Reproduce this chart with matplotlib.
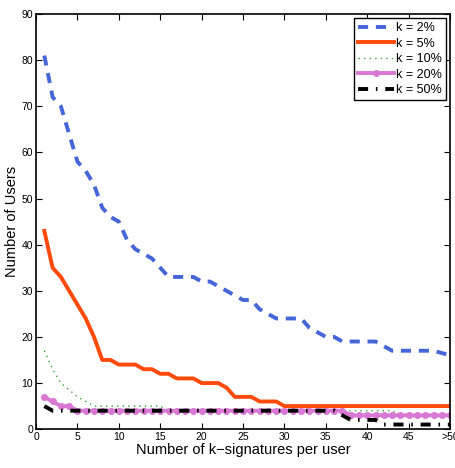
import numpy as np
import matplotlib
matplotlib.use("Agg")
import matplotlib.pyplot as plt

plt.rcParams['font.family'] = ['Liberation Sans', 'DejaVu Sans']

# number of k-signatures per user (50 means ">50")
x = list(range(1, 51))

k2 = [81, 72, 70, 64, 58, 56, 53, 48, 46, 45,
      41, 39, 38, 37, 35, 33, 33, 33, 33, 32,
      32, 31, 30, 29, 28, 28, 26, 25, 24, 24,
      24, 24, 22, 21, 20, 20, 19, 19, 19, 19,
      19, 18, 17, 17, 17, 17, 17, 17, 16.5, 16]
k5 = [43, 35, 33, 30, 27, 24, 20, 15, 15, 14,
      14, 14, 13, 13, 12, 12, 11, 11, 11, 10,
      10, 10, 9, 7, 7, 7, 6, 6, 6, 5,
      5, 5, 5, 5, 5, 5, 5, 5, 5, 5,
      5, 5, 5, 5, 5, 5, 5, 5, 5, 5]
k10 = [17, 13, 10, 8.5, 7, 6, 5, 5, 5, 5,
       5, 5, 5, 5, 5, 4, 4, 4, 4, 4,
       4, 4, 4, 4, 4, 4, 4, 4, 4, 4,
       4, 4, 4, 4, 4, 4, 4, 4, 4, 4,
       4, 4, 4, 3, 3, 3, 3, 3, 3, 3]
k20 = [7, 6, 5, 5, 4, 4, 4, 4, 4, 4,
       4, 4, 4, 4, 4, 4, 4, 4, 4, 4,
       4, 4, 4, 4, 4, 4, 4, 4, 4, 4,
       4, 4, 4, 4, 4, 4, 4, 3, 3, 3,
       3, 3, 3, 3, 3, 3, 3, 3, 3, 3]
k50 = [5, 4, 4, 4, 4, 4, 4, 4, 4, 4,
       4, 4, 4, 4, 4, 4, 4, 4, 4, 4,
       4, 4, 4, 4, 4, 4, 4, 4, 4, 4,
       4, 4, 4, 4, 4, 4, 3, 2, 2, 2,
       2, 1, 1, 1, 1, 1, 1, 1, 1, 1]

xticks = list(range(0, 51, 5))
xticklabels = ['0', '5', '10', '15', '20', '25', '30', '35', '40', '45', '>50']

fig = plt.figure(figsize=(4.56, 4.68), dpi=100)
ax = fig.add_axes([0.079, 0.083, 0.908, 0.887])

ax.plot(x, k2, color='#4466d8', linestyle=(0, (2.6, 2.0)), lw=2.8, label='k = 2%')
ax.plot(x, k5, color='#ff4a0a', linestyle='-', lw=2.8, label='k = 5%')
ax.plot(x, k10, color='#33a033', linestyle=(0, (1, 3)), lw=1, label='k = 10%')
ax.plot(x, k20, color='#d877d4', linestyle='-', lw=2.8, marker='o', ms=4,
        label='k = 20%')
ax.plot(x, k50, color='black', linestyle=(0, (2.6, 2.0, 0.4, 2.0)), lw=2.8,
        label='k = 50%')

ax.set_xlim(0, 50)
ax.set_ylim(0, 90)
ax.set_xticks(xticks)
ax.set_xticklabels(xticklabels)
ax.set_yticks(range(0, 91, 10))
ax.tick_params(direction='in', top=True, right=True, labelsize=7.5,
               length=4, pad=2)
for s in ax.spines.values():
    s.set_linewidth(1.2)

ax.set_xlabel('Number of k\u2212signatures per user', fontsize=10.5, labelpad=1)
ax.set_ylabel('Number of Users', fontsize=10.5, labelpad=2)

leg = ax.legend(loc='upper right', fontsize=9, fancybox=False, framealpha=1,
                edgecolor='black', borderpad=0.3, labelspacing=0.28,
                handlelength=2.9, handletextpad=0.15, borderaxespad=0.35)
leg.get_frame().set_linewidth(1.0)

fig.savefig('out.png', dpi=100)
